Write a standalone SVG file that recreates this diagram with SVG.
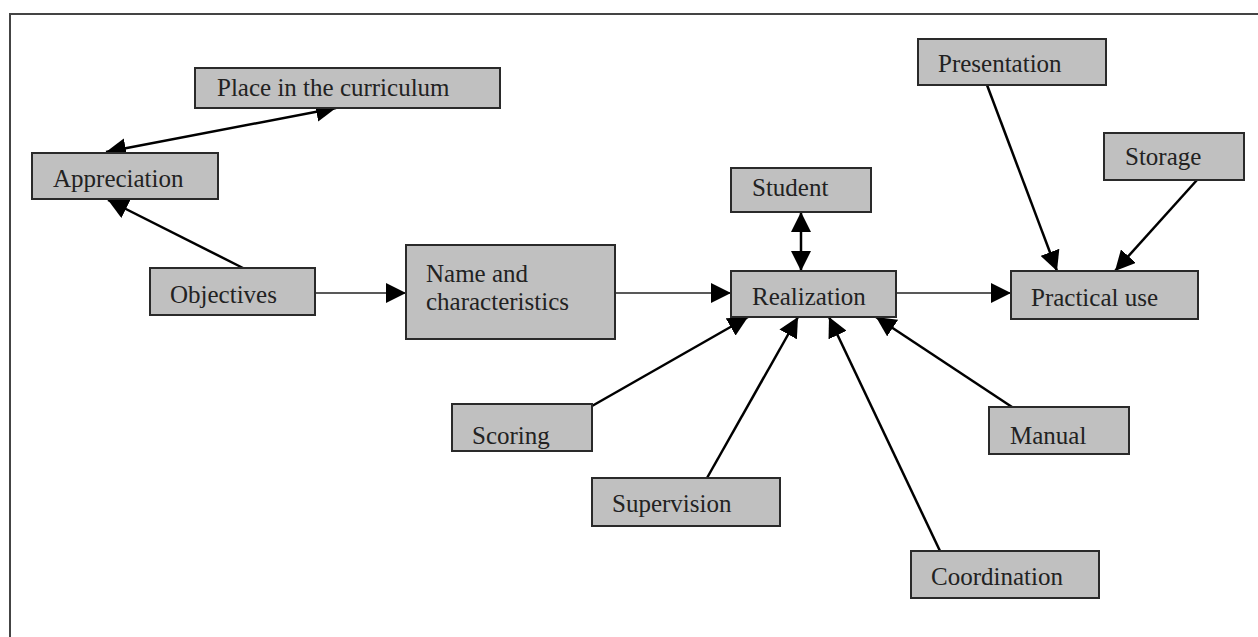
<svg xmlns="http://www.w3.org/2000/svg" width="1258" height="637" viewBox="0 0 1258 637">
<style>
.box{fill:#c0c0c0;stroke:#2a2a2a;stroke-width:2}
.lbl{font-family:"Liberation Serif","Times New Roman",serif;font-size:25px;fill:#222}
.ln{stroke:#000;stroke-width:2.5;fill:none}
.lh{stroke:#222;stroke-width:1.6;fill:none}
.frame{stroke:#444;stroke-width:2;fill:none}
</style>
<defs>
<marker id="ah" viewBox="0 0 20 20" refX="20" refY="10" markerWidth="20" markerHeight="20" markerUnits="userSpaceOnUse" orient="auto-start-reverse">
<path d="M0,0 L20,10 L0,20 z" fill="#000"/>
</marker>
</defs>
<rect width="1258" height="637" fill="#fff"/>
<path class="frame" d="M10,637 V14 H1258"/>
<g id="connectors">
<line class="ln" x1="106" y1="152" x2="336" y2="108" marker-start="url(#ah)" marker-end="url(#ah)"/>
<line class="ln" x1="243" y1="268" x2="108" y2="200" marker-end="url(#ah)"/>
<line class="lh" x1="315" y1="293" x2="406" y2="293" marker-end="url(#ah)"/>
<line class="lh" x1="615" y1="293" x2="731" y2="293" marker-end="url(#ah)"/>
<line class="ln" x1="801" y1="212" x2="801" y2="271" marker-start="url(#ah)" marker-end="url(#ah)"/>
<line class="lh" x1="896" y1="293" x2="1011" y2="293" marker-end="url(#ah)"/>
<line class="ln" x1="987" y1="85" x2="1057" y2="271" marker-end="url(#ah)"/>
<line class="ln" x1="1197" y1="180" x2="1115" y2="271" marker-end="url(#ah)"/>
<line class="ln" x1="592" y1="406" x2="748" y2="317" marker-end="url(#ah)"/>
<line class="ln" x1="707" y1="478" x2="798" y2="317" marker-end="url(#ah)"/>
<line class="ln" x1="940" y1="551" x2="829" y2="317" marker-end="url(#ah)"/>
<line class="ln" x1="1012" y1="407" x2="876" y2="317" marker-end="url(#ah)"/>
</g>
<g id="place"><rect class="box" x="195" y="68" width="305" height="40"/><text class="lbl" x="217" y="96">Place in the curriculum</text></g>
<g id="appreciation"><rect class="box" x="32" y="153" width="186" height="46"/><text class="lbl" x="53" y="187">Appreciation</text></g>
<g id="objectives"><rect class="box" x="150" y="268" width="165" height="47"/><text class="lbl" x="170" y="303">Objectives</text></g>
<g id="name"><rect class="box" x="406" y="245" width="209" height="94"/><text class="lbl" x="426" y="282">Name and</text><text class="lbl" x="426" y="310">characteristics</text></g>
<g id="student"><rect class="box" x="731" y="168" width="140" height="44"/><text class="lbl" x="752" y="196">Student</text></g>
<g id="realization"><rect class="box" x="731" y="271" width="165" height="46"/><text class="lbl" x="752" y="305">Realization</text></g>
<g id="presentation"><rect class="box" x="918" y="39" width="188" height="46"/><text class="lbl" x="938" y="72">Presentation</text></g>
<g id="storage"><rect class="box" x="1104" y="133" width="140" height="47"/><text class="lbl" x="1125" y="165">Storage</text></g>
<g id="practical"><rect class="box" x="1011" y="271" width="187" height="48"/><text class="lbl" x="1031" y="306">Practical use</text></g>
<g id="scoring"><rect class="box" x="452" y="404" width="140" height="47"/><text class="lbl" x="472" y="444">Scoring</text></g>
<g id="manual"><rect class="box" x="989" y="407" width="140" height="47"/><text class="lbl" x="1010" y="444">Manual</text></g>
<g id="supervision"><rect class="box" x="592" y="478" width="188" height="48"/><text class="lbl" x="612" y="512">Supervision</text></g>
<g id="coordination"><rect class="box" x="911" y="551" width="188" height="47"/><text class="lbl" x="931" y="585">Coordination</text></g>
</svg>
